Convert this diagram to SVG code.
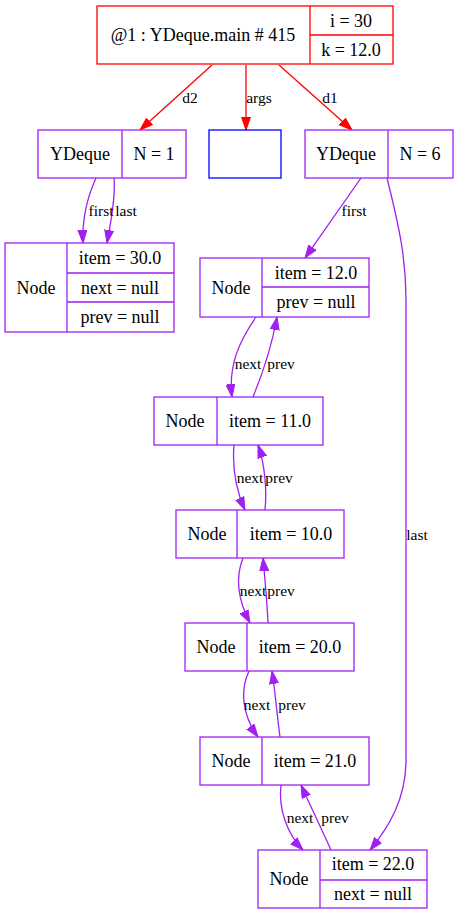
<svg xmlns="http://www.w3.org/2000/svg" width="458" height="915" viewBox="0 0 458 915">
<style>
text{font-family:"Liberation Serif","Times New Roman",serif;fill:#000}
.n{font-size:18px;text-anchor:middle}
.l{font-size:15.5px;text-anchor:middle}
.r{fill:#fff;stroke:#ff0000;stroke-width:1.3}
.p{fill:#fff;stroke:#a020f0;stroke-width:1.3}
.b{fill:#fff;stroke:#0000ff;stroke-width:1.3}
.er{fill:none;stroke:#ff0000;stroke-width:1.3}
.ep{fill:none;stroke:#a020f0;stroke-width:1.3}
</style>
<defs>
<marker id="ar" markerUnits="userSpaceOnUse" markerWidth="14" markerHeight="10" refX="13" refY="5" orient="auto"><path d="M0,0.5 L13,5 L0,9.5 z" fill="#ff0000" stroke="#ff0000"/></marker>
<marker id="ap" markerUnits="userSpaceOnUse" markerWidth="14" markerHeight="10" refX="13" refY="5" orient="auto"><path d="M0,0.5 L13,5 L0,9.5 z" fill="#a020f0" stroke="#a020f0"/></marker>
</defs>
<rect width="458" height="915" fill="#fff"/>
<g id="edges">
<path class="er" d="M212,65 L140,130" marker-end="url(#ar)"/>
<path class="er" d="M246,65 L246,130" marker-end="url(#ar)"/>
<path class="er" d="M279,65 L352,130" marker-end="url(#ar)"/>
<text class="l" x="190" y="103">d2</text>
<text class="l" x="259" y="103">args</text>
<text class="l" x="330" y="103">d1</text>
<path class="ep" d="M96,178 C86,200 82,220 83,243" marker-end="url(#ap)"/>
<path class="ep" d="M114,178 C116,200 110,225 107,243" marker-end="url(#ap)"/>
<text class="l" x="101" y="216">first</text>
<text class="l" x="126" y="216">last</text>
<path class="ep" d="M361,178 L305,258" marker-end="url(#ap)"/>
<text class="l" x="354" y="216">first</text>
<path class="ep" d="M387,178 C400,230 406,260 406,300 L406,760 C406,800 388,828 370,850" marker-end="url(#ap)"/>
<text class="l" x="417" y="540">last</text>
<path class="ep" d="M256,317 C240,340 228,365 232,397" marker-end="url(#ap)"/>
<path class="ep" d="M253,397 C262,375 272,345 277,317" marker-end="url(#ap)"/>
<text class="l" x="248" y="369">next</text>
<text class="l" x="281" y="369">prev</text>
<path class="ep" d="M234,445 C232,470 236,490 245,510" marker-end="url(#ap)"/>
<path class="ep" d="M265,510 C267,490 265,465 258,445" marker-end="url(#ap)"/>
<text class="l" x="250" y="483">next</text>
<text class="l" x="279" y="483">prev</text>
<path class="ep" d="M243,558 C235,578 238,600 250,623" marker-end="url(#ap)"/>
<path class="ep" d="M268,623 C267,600 265,580 263,558" marker-end="url(#ap)"/>
<text class="l" x="253" y="596">next</text>
<text class="l" x="281" y="596">prev</text>
<path class="ep" d="M249,671 C240,690 242,715 258,737" marker-end="url(#ap)"/>
<path class="ep" d="M280,737 C277,715 275,690 272,671" marker-end="url(#ap)"/>
<text class="l" x="257" y="710">next</text>
<text class="l" x="292" y="710">prev</text>
<path class="ep" d="M281,785 C278,810 288,835 303,850" marker-end="url(#ap)"/>
<path class="ep" d="M331,850 C322,830 310,805 301,785" marker-end="url(#ap)"/>
<text class="l" x="300" y="823">next</text>
<text class="l" x="335" y="823">prev</text>
</g>
<g id="main">
<rect class="r" x="97" y="6" width="296" height="58"/>
<path class="er" d="M310,6 V64 M310,35 H393"/>
<text class="n" x="203" y="41">@1 : YDeque.main # 415</text>
<text class="n" x="351" y="27">i = 30</text>
<text class="n" x="351" y="56">k = 12.0</text>
</g>
<g id="d2">
<rect class="p" x="38" y="130" width="148" height="48"/>
<path class="ep" d="M122,130 V178"/>
<text class="n" x="80" y="160">YDeque</text>
<text class="n" x="154" y="160">N = 1</text>
</g>
<g id="args">
<rect class="b" x="209" y="130" width="72" height="48"/>
</g>
<g id="d1">
<rect class="p" x="305" y="130" width="148" height="48"/>
<path class="ep" d="M388,130 V178"/>
<text class="n" x="346" y="160">YDeque</text>
<text class="n" x="420" y="160">N = 6</text>
</g>
<g id="node30">
<rect class="p" x="5" y="243" width="169" height="89"/>
<path class="ep" d="M67,243 V332 M67,273 H174 M67,302 H174"/>
<text class="n" x="36" y="294">Node</text>
<text class="n" x="120" y="264">item = 30.0</text>
<text class="n" x="120" y="294">next = null</text>
<text class="n" x="120" y="323">prev = null</text>
</g>
<g id="node12">
<rect class="p" x="200" y="258" width="169" height="59"/>
<path class="ep" d="M262,258 V317 M262,287 H369"/>
<text class="n" x="231" y="294">Node</text>
<text class="n" x="316" y="279">item = 12.0</text>
<text class="n" x="316" y="308">prev = null</text>
</g>
<g id="node11">
<rect class="p" x="154" y="397" width="169" height="48"/>
<path class="ep" d="M217,397 V445"/>
<text class="n" x="185" y="427">Node</text>
<text class="n" x="270" y="427">item = 11.0</text>
</g>
<g id="node10">
<rect class="p" x="176" y="510" width="168" height="48"/>
<path class="ep" d="M237,510 V558"/>
<text class="n" x="207" y="540">Node</text>
<text class="n" x="291" y="540">item = 10.0</text>
</g>
<g id="node20">
<rect class="p" x="185" y="623" width="169" height="48"/>
<path class="ep" d="M247,623 V671"/>
<text class="n" x="216" y="653">Node</text>
<text class="n" x="300" y="653">item = 20.0</text>
</g>
<g id="node21">
<rect class="p" x="200" y="737" width="169" height="48"/>
<path class="ep" d="M262,737 V785"/>
<text class="n" x="231" y="767">Node</text>
<text class="n" x="315" y="767">item = 21.0</text>
</g>
<g id="node22">
<rect class="p" x="258" y="850" width="169" height="58"/>
<path class="ep" d="M320,850 V908 M320,880 H427"/>
<text class="n" x="289" y="885">Node</text>
<text class="n" x="373" y="870">item = 22.0</text>
<text class="n" x="373" y="900">next = null</text>
</g>
</svg>
